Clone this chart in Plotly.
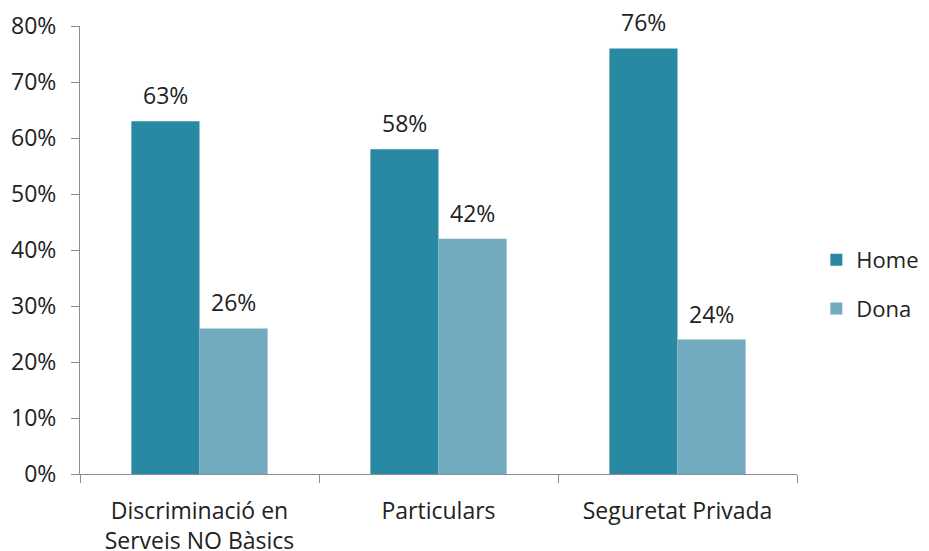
import plotly.graph_objects as go

# categories and series values (fractions)
categories = ["Discriminació en<br>Serveis NO Bàsics", "Particulars", "Seguretat Privada"]
home = [0.63, 0.58, 0.76]
dona = [0.26, 0.42, 0.24]
series_names = ["Home", "Dona"]
y_ticks = [0, 0.1, 0.2, 0.3, 0.4, 0.5, 0.6, 0.7, 0.8]

colors = ["#2989a3", "#72abbf"]
font_family = "Open Sans, Liberation Sans, sans-serif"

fig = go.Figure()
for i, (name, vals) in enumerate(zip(series_names, [home, dona])):
    fig.add_trace(go.Bar(
        x=categories, y=vals, name=name,
        marker=dict(color=colors[i], line=dict(width=0)),
        legendgroup=name,
    ))

# value labels above the bars
for i, vals in enumerate([home, dona]):
    for j, v in enumerate(vals):
        fig.add_annotation(
            x=j, y=v, xref="x", yref="y",
            text=f"{round(v * 100)}%",
            showarrow=False, yanchor="bottom", yshift=8,
            xshift=-34 if i == 0 else 34,
            font=dict(size=23, color="#222222", family=font_family),
        )

# page body adds 8px margin, so figure is a bit smaller than the window
fig.update_layout(
    width=921, height=543,
    margin=dict(l=72, r=132, t=18, b=77, autoexpand=False),
    paper_bgcolor="white", plot_bgcolor="white",
    barmode="group", bargap=0.43, bargroupgap=0,
    font=dict(family=font_family, size=23, color="#222222"),
    showlegend=True,
    legend=dict(x=1.027, xanchor="left", y=0.423, yanchor="middle",
                traceorder="grouped", tracegroupgap=17,
                font=dict(size=22), itemwidth=30),
)
fig.update_xaxes(
    showline=True, linecolor="#8c8c8c", linewidth=1,
    ticks="outside", tickson="boundaries", ticklen=8, tickcolor="#8c8c8c",
    showgrid=False, tickfont=dict(size=23), automargin=False,
    ticklabelstandoff=16,
)
fig.update_yaxes(
    range=[0, 0.8], tickvals=y_ticks, tickformat=".0%",
    showline=True, linecolor="#8c8c8c", linewidth=1,
    ticks="outside", ticklen=8, tickcolor="#8c8c8c",
    showgrid=False, zeroline=False, tickfont=dict(size=23), automargin=False,
    ticklabelstandoff=10,
)

fig.write_html("out.html")
